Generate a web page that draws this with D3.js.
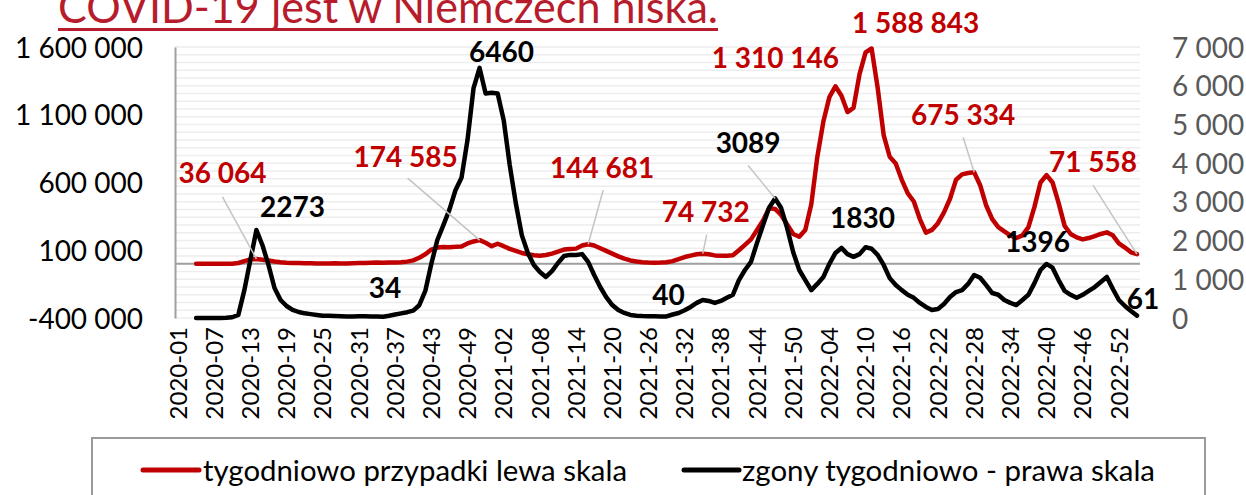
<!DOCTYPE html>
<html><head><meta charset="utf-8">
<script src="https://cdn.jsdelivr.net/npm/d3@7"></script>
<style>
body{margin:0;background:#fff}
svg{display:block}
text{font-family:Lato,'Open Sans',sans-serif}
</style>
</head><body>
<svg id="c" width="1246" height="495"></svg>
<script>
// ---------- DATA ----------
const titleText = "COVID-19 jest w Niemczech niska.";
const yearWeeks = [[2020, 53], [2021, 52], [2022, 52], [2023, 3]];
const categories = [];
yearWeeks.forEach(([y, n]) => { for (let w = 1; w <= n; w++) categories.push(y + "-" + String(w).padStart(2, "0")); });

const cases = [null,null,null,
0,0,0,0,100,200,900,6000,20000,32000,36064,30000,24000,17000,12000,8000,6000,5000,
4500,3500,3000,3000,2800,3500,3000,3000,4000,5500,6500,7500,9000,8500,9500,10000,12000,16000,25000,45000,
70000,105000,120000,124000,123000,125000,128000,150000,165000,174585,155000,130000,148000,130000,110000,95000,80000,70000,63000,60000,
65000,75000,90000,105000,110000,112000,135000,144681,135000,115000,95000,75000,55000,38000,25000,17000,12000,9000,8000,9000,
12000,20000,35000,50000,60000,70000,74732,70000,62000,60000,60000,63000,100000,140000,180000,250000,320000,410000,405000,360000,
290000,220000,200000,250000,440000,790000,1050000,1230000,1310146,1240000,1120000,1150000,1400000,1560000,1588843,1300000,950000,790000,740000,620000,
520000,460000,330000,230000,250000,300000,380000,480000,620000,660000,670000,675334,580000,430000,330000,270000,240000,210000,190000,210000,
270000,420000,600000,655000,600000,450000,280000,220000,195000,180000,190000,205000,220000,232000,210000,150000,120000,85000,71558];

const deaths = [null,null,null,
0,0,0,0,0,5,20,80,720,1500,2273,1880,1370,775,465,310,210,155,
120,100,80,60,55,50,45,40,40,42,45,40,36,34,60,90,120,150,190,330,
700,1400,2015,2400,2800,3300,3620,4600,5940,6460,5800,5820,5800,5110,3950,2970,2140,1680,1370,1190,
1060,1210,1420,1600,1630,1630,1650,1450,1110,800,540,335,205,130,80,60,50,45,42,41,
40,90,130,200,285,390,465,440,390,440,520,600,980,1240,1450,1940,2400,2850,3089,2840,
2320,1700,1240,980,720,880,1060,1400,1680,1810,1650,1580,1650,1830,1790,1630,1370,1030,850,720,
600,520,390,285,205,230,360,540,670,720,880,1110,1040,850,645,600,465,390,335,465,
600,900,1240,1396,1300,980,700,600,520,600,700,800,930,1060,750,465,310,180,61];

const leftTicks = [-400000, 100000, 600000, 1100000, 1600000];
const rightTicks = [0, 1000, 2000, 3000, 4000, 5000, 6000, 7000];
const gridStep = 200;
const labelEvery = 6;
const legendLabels = ["tygodniowo przypadki lewa skala", "zgony tygodniowo - prawa skala"];

// annotated points (index into series); label offsets are layout
const caseNotes = [
  {i:13, dx:-34, dy:-86, lead:[-34,-62]},
  {i:50, dx:-74, dy:-83, lead:[-72,-62]},
  {i:68, dx:14, dy:-76, lead:[15,-54]},
  {i:87, dx:3, dy:-42, lead:[4,-19]},
  {i:109, dx:-60, dy:-28},
  {i:115, dx:44, dy:-26},
  {i:132, dx:-11, dy:-57, lead:[-11,-35]},
  {i:159, dx:-44, dy:-92, lead:[-44,-69]}
];
const deathNotes = [
  {i:13, dx:36, dy:-23},
  {i:34, dx:2, dy:-29},
  {i:50, dx:22, dy:-16},
  {i:81, dx:2, dy:-22},
  {i:99, dx:-27, dy:-55, lead:[-27,-33]},
  {i:114, dx:-3, dy:-29},
  {i:144, dx:-9, dy:-22},
  {i:159, dx:6, dy:-17}
];

// ---------- LAYOUT ----------
const L = 175, R = 1140, T = 47, B = 318;
const RED = "#c00000", TITLE = "#b71c2c";
const svg = d3.select("#c");

const x = d3.scaleBand().domain(categories).range([L, R]).padding(0);
const cx = c => x(c) + x.bandwidth() / 2;
const yL = d3.scaleLinear().domain([-400000, 1600000]).range([B, T]);
const yR = d3.scaleLinear().domain([0, 7000]).range([B, T]);
const sp = d3.format(",");
const fmtCases = v => sp(v).replace(/,/g, " ").replace("\u2212", "-");

// title (clipped at top)
svg.append("text").attr("x", 58).attr("y", 23).attr("fill", TITLE)
  .attr("font-size", 44).attr("textLength", 660).attr("lengthAdjust", "spacingAndGlyphs")
  .text(titleText);
svg.append("rect").attr("x", 58).attr("y", 28).attr("width", 660).attr("height", 3).attr("fill", TITLE);

// minor gridlines (right axis every 200)
svg.append("g").selectAll("line").data(d3.range(0, 7000 + 1, gridStep)).join("line")
  .attr("x1", L).attr("x2", R).attr("y1", d => yR(d)).attr("y2", d => yR(d))
  .attr("stroke", "#ededed").attr("stroke-width", 1.5);

// zero line for left axis
svg.append("line").attr("x1", L).attr("x2", R).attr("y1", yL(0)).attr("y2", yL(0))
  .attr("stroke", "#a0a0a0").attr("stroke-width", 2);

// left axis
const gL = svg.append("g").attr("transform", `translate(${L},0)`)
  .call(d3.axisLeft(yL).tickValues(leftTicks).tickSize(0).tickPadding(32).tickFormat(fmtCases));
gL.select(".domain").attr("stroke", "#a0a0a0").attr("stroke-width", 2);
gL.selectAll("text").attr("font-size", 28).attr("fill", "#000").attr("dy", "0.36em")
  .style("font-family", "Lato");

// right axis
const gR = svg.append("g").attr("transform", `translate(${R},0)`)
  .call(d3.axisRight(yR).tickValues(rightTicks).tickSize(0).tickPadding(32).tickFormat(fmtCases));
gR.select(".domain").remove();
gR.selectAll("text").attr("font-size", 28).attr("fill", "#595959").attr("dy", "0.36em")
  .style("font-family", "Lato");

// x axis
const gX = svg.append("g").attr("transform", `translate(0,327)`)
  .call(d3.axisBottom(x).tickValues(categories.filter((c, i) => i % labelEvery === 0)).tickSize(0));
gX.select(".domain").remove();
gX.selectAll("text").attr("transform", "rotate(-90)").attr("x", 0).attr("y", 0)
  .attr("dy", "0.36em").attr("text-anchor", "end").attr("font-size", 24).attr("fill", "#000")
  .style("font-family", "Lato");

// lines
const lineL = d3.line().defined(d => d.v !== null).x(d => cx(d.c)).y(d => yL(d.v));
const lineR = d3.line().defined(d => d.v !== null).x(d => cx(d.c)).y(d => yR(d.v));
const caseData = categories.map((c, i) => ({c, v: cases[i]}));
const deathData = categories.map((c, i) => ({c, v: deaths[i]}));
svg.append("path").datum(caseData).attr("d", lineL).attr("fill", "none").attr("stroke", RED)
  .attr("stroke-width", 4.5).attr("stroke-linejoin", "round").attr("stroke-linecap", "round");
svg.append("path").datum(deathData).attr("d", lineR).attr("fill", "none").attr("stroke", "#000")
  .attr("stroke-width", 4.5).attr("stroke-linejoin", "round").attr("stroke-linecap", "round");

// annotations
function annotate(notes, series, yS, color, fmt) {
  notes.forEach(n => {
    const px = cx(categories[n.i]), py = yS(series[n.i]);
    if (n.lead) {
      svg.append("line").attr("x1", px + n.lead[0]).attr("y1", py + n.lead[1])
        .attr("x2", px).attr("y2", py).attr("stroke", "#c4c4c4").attr("stroke-width", 1.5);
    }
    svg.append("text").attr("x", px + n.dx).attr("y", py + n.dy).attr("dy", "0.36em")
      .attr("text-anchor", "middle").attr("font-size", 28).attr("font-weight", "bold")
      .attr("fill", color).text(fmt(series[n.i]));
  });
}
annotate(caseNotes, cases, yL, RED, fmtCases);
annotate(deathNotes, deaths, yR, "#000", v => String(v));

// legend
svg.append("rect").attr("x", 92).attr("y", 438).attr("width", 1113).attr("height", 80)
  .attr("fill", "#fff").attr("stroke", "#9a9a9a").attr("stroke-width", 2);
const legItems = [
  {color: RED, x1: 143, x2: 199, tx: 203, tl: 424},
  {color: "#000", x1: 684, x2: 739, tx: 742, tl: 413}
];
legItems.forEach((it, k) => {
  svg.append("line").attr("x1", it.x1).attr("x2", it.x2).attr("y1", 470).attr("y2", 470)
    .attr("stroke", it.color).attr("stroke-width", 5).attr("stroke-linecap", "round");
  svg.append("text").attr("x", it.tx).attr("y", 481).attr("font-size", 29)
    .attr("textLength", it.tl).attr("lengthAdjust", "spacingAndGlyphs").attr("fill", "#000")
    .text(legendLabels[k]);
});
</script>
</body></html>
